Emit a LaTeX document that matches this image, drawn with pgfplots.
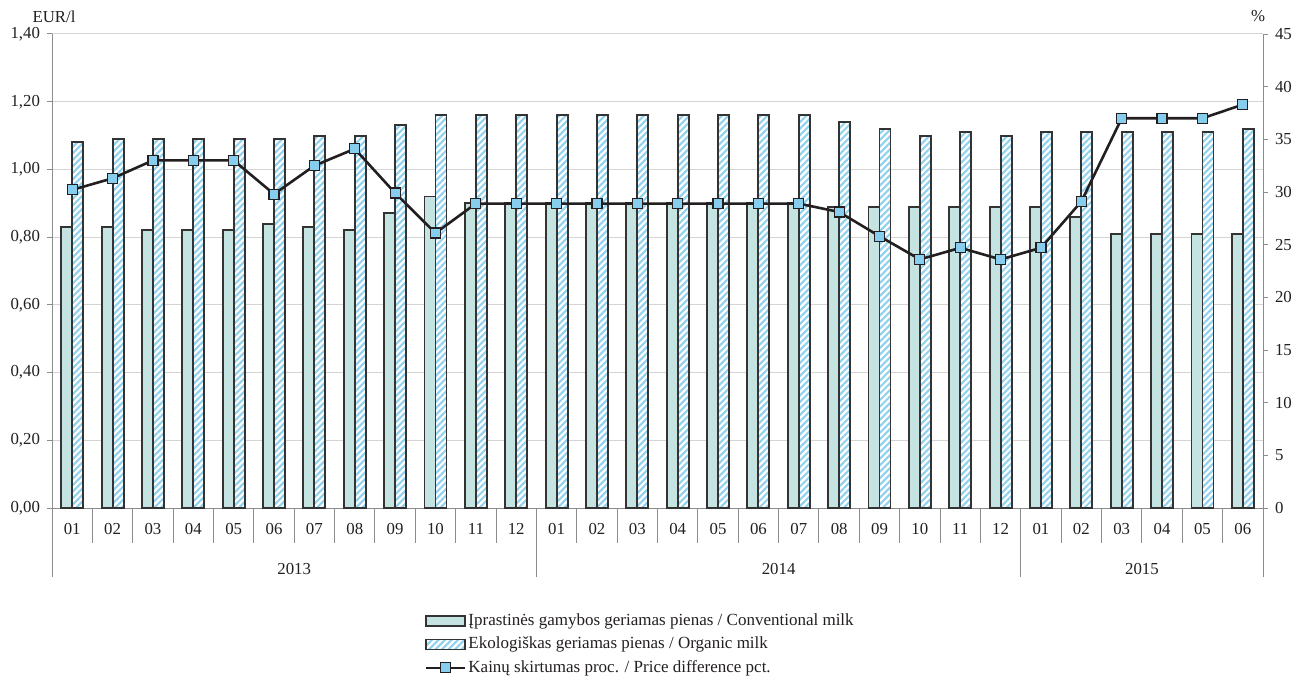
\documentclass[border=0pt]{standalone}
\usepackage{fontspec}
\setmainfont{Liberation Serif}
\usepackage{pgfplots}
\usepackage{pgfplotstable}
\pgfplotsset{compat=1.18}
\usetikzlibrary{patterns.meta}
\definecolor{convfill}{HTML}{C5E3E0}
\definecolor{hatch}{HTML}{8FD1EF}
\definecolor{markfill}{HTML}{87CDEE}
\definecolor{linec}{HTML}{231F20}
\definecolor{barborder}{HTML}{333333}
\definecolor{axisgray}{HTML}{8C8C8C}
\definecolor{gridgray}{HTML}{D4D4D4}
\definecolor{txt}{HTML}{231F20}

\pgfplotsset{
  barlegend/.style={legend image code/.code={\draw[##1] (0pt,-2.5pt) rectangle (19.5pt,2.5pt);}},
  linelegend/.style={legend image code/.code={\draw[mark repeat=2,mark phase=2,##1] plot coordinates {(0pt,0pt) (9.75pt,0pt) (19.5pt,0pt)};}},
  convstyle/.style={draw=barborder, line width=0.95pt, fill=convfill},
  orgstyle/.style={draw=barborder, line width=0.95pt, preaction={fill=white}, pattern={Lines[angle=45,distance=2.3pt,line width=1.05pt]}, pattern color=hatch},
}

\pgfplotstableread{
x conv org diff
0 0.83 1.08 30.2
1 0.83 1.09 31.3
2 0.82 1.09 33.0
3 0.82 1.09 33.0
4 0.82 1.09 33.0
5 0.84 1.09 29.8
6 0.83 1.10 32.5
7 0.82 1.10 34.1
8 0.87 1.13 29.9
9 0.92 1.16 26.1
10 0.90 1.16 28.9
11 0.90 1.16 28.9
12 0.90 1.16 28.9
13 0.90 1.16 28.9
14 0.90 1.16 28.9
15 0.90 1.16 28.9
16 0.90 1.16 28.9
17 0.90 1.16 28.9
18 0.90 1.16 28.9
19 0.89 1.14 28.1
20 0.89 1.12 25.8
21 0.89 1.10 23.6
22 0.89 1.11 24.7
23 0.89 1.10 23.6
24 0.89 1.11 24.7
25 0.86 1.11 29.1
26 0.81 1.11 37.0
27 0.81 1.11 37.0
28 0.81 1.11 37.0
29 0.81 1.12 38.3
}\datatable

\begin{document}
\begin{tikzpicture}[x=1pt,y=1pt,font=\fontsize{8.4}{10}\selectfont, text=txt]
\useasboundingbox (0,0) rectangle (647.5,337.5);
\begin{axis}[
  at={(26pt,83.5pt)}, anchor=south west, scale only axis,
  width=605.5pt, height=237pt,
  xmin=-0.5, xmax=29.5, ymin=0, ymax=1.4,
  clip=false,
  axis lines*=left,
  axis line style={axisgray, line width=0.5pt},
  ytick={0,0.2,0.4,0.6,0.8,1.0,1.2,1.4},
  ymajorgrids, grid style={gridgray, line width=0.5pt},
  tick align=outside, major tick length=2.5pt,
  tick style={axisgray, line width=0.5pt},
  major x tick style={draw=none},
  xtick={0,...,29},
  xticklabels={01,02,03,04,05,06,07,08,09,10,11,12,01,02,03,04,05,06,07,08,09,10,11,12,01,02,03,04,05,06},
  minor xtick={-0.5,0.5,...,29.5},
  minor tick length=17.5pt,
  minor x tick style={axisgray, line width=0.5pt},
  xticklabel style={yshift=-1.7pt},
  y tick label style={/pgf/number format/fixed, /pgf/number format/fixed zerofill, /pgf/number format/precision=2, /pgf/number format/use comma, /pgf/number format/assume math mode=true},
]
\addplot[ybar, bar width=5.5pt, bar shift=-2.75pt, convstyle] table[x=x,y=conv]{\datatable};
\addplot[ybar, bar width=5.5pt, bar shift=2.75pt, orgstyle] table[x=x,y=org]{\datatable};
\draw[axisgray, line width=0.5pt] (axis cs:-0.5,0) -- ++(0pt,-34.5pt);
\draw[axisgray, line width=0.5pt] (axis cs:11.5,0) -- ++(0pt,-34.5pt);
\draw[axisgray, line width=0.5pt] (axis cs:23.5,0) -- ++(0pt,-34.5pt);
\draw[axisgray, line width=0.5pt] (axis cs:29.5,0) -- ++(0pt,-34.5pt);
\node[yshift=-30.5pt] at (axis cs:5.5,0) {2013};
\node[yshift=-30.5pt] at (axis cs:17.5,0) {2014};
\node[yshift=-30.5pt] at (axis cs:26.5,0) {2015};
\end{axis}
\begin{axis}[
  at={(26pt,83.5pt)}, anchor=south west, scale only axis,
  width=605.5pt, height=237pt,
  xmin=-0.5, xmax=29.5, ymin=0, ymax=45,
  clip=false,
  axis x line=none, axis y line*=right,
  axis line style={axisgray, line width=0.5pt},
  ytick={0,5,10,15,20,25,30,35,40,45},
  tick align=outside, major tick length=2.5pt,
  tick style={axisgray, line width=0.5pt},
  y tick label style={/pgf/number format/assume math mode=true},
  legend cell align=left,
  legend style={at={(0.3072,-0.2153)}, anchor=north west, draw=none, fill=none,
    font=\fontsize{8.5}{10}\selectfont, row sep=1.1pt, inner sep=0pt,
    nodes={inner sep=1.2pt, text height=6.2pt, text depth=2pt}},
]
\addlegendimage{barlegend, convstyle}
\addlegendentry{Įprastinės gamybos geriamas pienas / Conventional milk}
\addlegendimage{barlegend, orgstyle}
\addlegendentry{Ekologiškas geriamas pienas / Organic milk}
\addplot[linelegend, linec, line width=1.3pt, mark=square*, mark size=2.5pt, mark options={fill=markfill, draw=linec, line width=0.6pt}] table[x=x,y=diff]{\datatable};
\addlegendentry{Kainų skirtumas proc. / Price difference pct.}
\end{axis}
\node at (27,329) {EUR/l};
\node at (629,329.5) {\%};
\end{tikzpicture}
\end{document}
